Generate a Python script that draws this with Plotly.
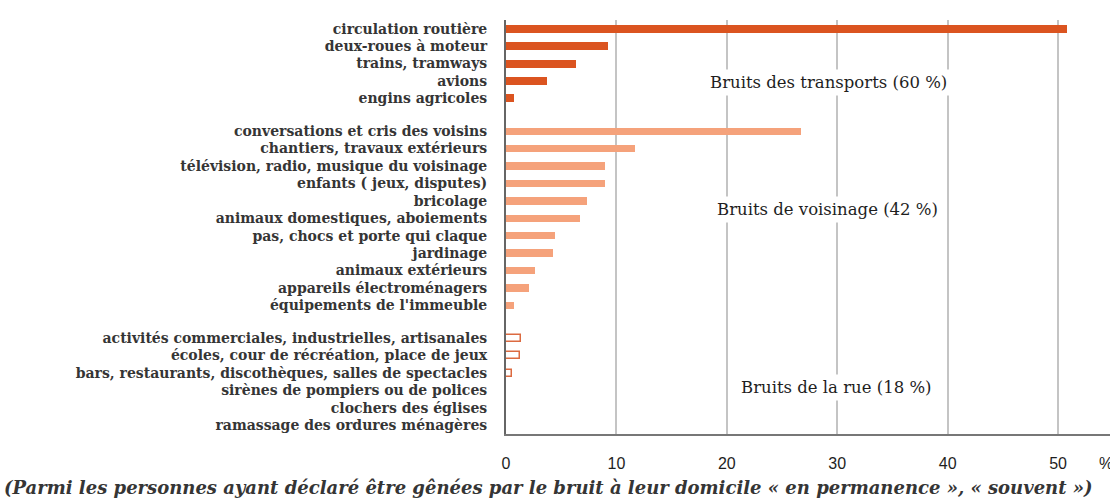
import plotly.graph_objects as go

# Sources of noise reported as disturbing at home (%)
transport_labels = ["circulation routière", "deux-roues à moteur", "trains, tramways",
                    "avions", "engins agricoles"]
transport_values = [50.8, 9.2, 6.3, 3.7, 0.7]

voisinage_labels = ["conversations et cris des voisins", "chantiers, travaux extérieurs",
                    "télévision, radio, musique du voisinage", "enfants ( jeux, disputes)",
                    "bricolage", "animaux domestiques, aboiements",
                    "pas, chocs et porte qui claque", "jardinage", "animaux extérieurs",
                    "appareils électroménagers", "équipements de l'immeuble"]
voisinage_values = [26.7, 11.7, 9.0, 9.0, 7.3, 6.7, 4.4, 4.3, 2.6, 2.1, 0.7]

rue_labels = ["activités commerciales, industrielles, artisanales",
              "écoles, cour de récréation, place de jeux",
              "bars, restaurants, discothèques, salles de spectacles",
              "sirènes de pompiers ou de polices", "clochers des églises",
              "ramassage des ordures ménagères"]
rue_values = [1.4, 1.3, 0.5, 0, 0, 0]

group_titles = ["Bruits des transports (60 %)", "Bruits de voisinage (42 %)",
                "Bruits de la rue (18 %)"]
x_ticks = [0, 10, 20, 30, 40, 50]
footnote = ("(Parmi les personnes ayant déclaré être gênées par le bruit à leur "
            "domicile « en permanence », « souvent »)")

SERIF = "DejaVu Serif"
SANS = "Liberation Sans"
TEXT = "#1e1e1e"
SOFT = "#353535"
GAP = 1.88  # spacing between groups, in row units

# row positions: consecutive rows, with a gap between groups
groups = [transport_labels, voisinage_labels, rue_labels]
positions = []
start = 0.0
for g in groups:
    positions.append([start + i for i in range(len(g))])
    start = start + len(g) - 1 + GAP
last_row = positions[-1][-1]

fig = go.Figure()
fig.add_trace(go.Bar(x=transport_values, y=positions[0], orientation="h", width=0.46,
                     marker=dict(color="#db5420", line=dict(width=0))))
fig.add_trace(go.Bar(x=voisinage_values, y=positions[1], orientation="h", width=0.42,
                     marker=dict(color="#f5a27b", line=dict(width=0))))
fig.add_trace(go.Bar(x=rue_values, y=positions[2], orientation="h", width=0.4,
                     marker=dict(color="white", line=dict(color="#dc6a40", width=1.5))))

all_pos = [p for grp in positions for p in grp]
all_labels = transport_labels + voisinage_labels + rue_labels

title_rows = [positions[0][0] + 3.1, positions[1][0] + 4.5, positions[2][0] + 2.85]
title_x = [29.2, 29.1, 29.9]
for t, xx, yy in zip(group_titles, title_x, title_rows):
    fig.add_annotation(x=xx, y=yy, text=t, showarrow=False, bgcolor="white",
                       font=dict(family=SERIF, size=16.5, color=TEXT), borderpad=3)

fig.add_annotation(xref="paper", yref="paper", x=-0.834, y=-0.13, xanchor="left",
                   yanchor="middle", text=footnote, showarrow=False,
                   font=dict(family=SERIF, size=18, color=SOFT, style="italic",
                             weight="bold"))
fig.add_annotation(xref="paper", yref="paper", x=0.979, y=-0.072, xanchor="left",
                   yanchor="middle", text="%", showarrow=False,
                   font=dict(family=SANS, size=16, color=TEXT))

fig.update_layout(
    width=1110, height=499,
    margin=dict(l=506, r=0, t=20, b=65),
    paper_bgcolor="white", plot_bgcolor="white",
    showlegend=False, bargap=0,
    xaxis=dict(range=[0, 54.7], tickvals=x_ticks, showgrid=True, gridcolor="#c4c4c4",
               gridwidth=1.5, zeroline=False, showline=True, linecolor="#777",
               linewidth=2, ticks="", ticklabelstandoff=14,
               tickfont=dict(family=SANS, size=16, color=TEXT)),
    yaxis=dict(range=[last_row + 0.5, -0.5], tickvals=all_pos, ticktext=all_labels,
               showgrid=False, zeroline=False, showline=True, linecolor="#666",
               linewidth=2, ticks="", ticklabelstandoff=14,
               tickfont=dict(family=SERIF, size=14, color=SOFT, weight="bold")),
)

fig.write_html("out.html")
